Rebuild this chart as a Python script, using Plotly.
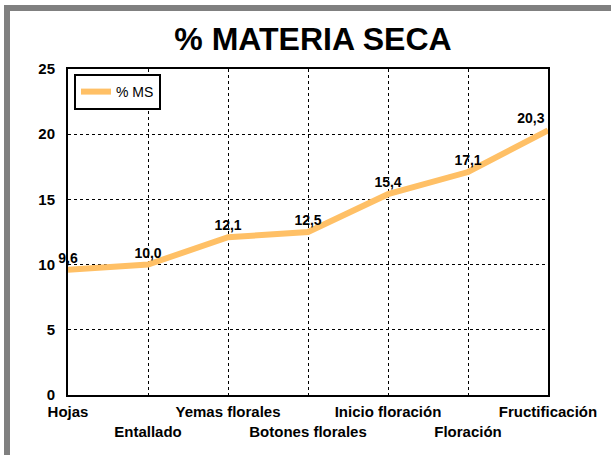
import plotly.graph_objects as go

categories = ["Hojas", "Entallado", "Yemas florales", "Botones florales",
              "Inicio floración", "Floración", "Fructificación"]
ms_values = [9.6, 10.0, 12.1, 12.5, 15.4, 17.1, 20.3]
series_name = "% MS"
title_text = "% MATERIA SECA"
y_ticks = [0, 5, 10, 15, 20, 25]

FONT = "Liberation Sans, Arial, sans-serif"

labels = [f"{v:.1f}".replace(".", ",") for v in ms_values]
tick_text = [c if i % 2 == 0 else "<br>" + c for i, c in enumerate(categories)]
text_pos = ["top center"] * (len(ms_values) - 1) + ["top left"]

fig = go.Figure()
fig.add_trace(go.Scatter(
    x=categories, y=ms_values, mode="lines+markers+text", name=series_name,
    line=dict(color="#FFC066", width=6),
    marker=dict(size=4, color="rgba(0,0,0,0)"),
    text=labels, textposition=text_pos,
    textfont=dict(family=FONT, size=14, color="black", weight="bold"),
    cliponaxis=False,
))

W, H = 611, 455
L, R, T, B = 68, 63, 69, 60
pw, ph = W - L - R, H - T - B

def px_x(x):
    return (x - L) / pw

def px_y(y):
    return (H - B - y) / ph

fig.update_layout(
    width=W, height=H,
    margin=dict(l=L, r=R, t=T, b=B),
    paper_bgcolor="white", plot_bgcolor="white",
    title=dict(text=title_text, x=313 / W, xanchor="center",
               y=1 - 39 / H, yanchor="middle",
               font=dict(family=FONT, size=32, color="black", weight="bold")),
    showlegend=True,
    legend=dict(x=px_x(74), y=px_y(74), xanchor="left", yanchor="top",
                bgcolor="white", bordercolor="black", borderwidth=2,
                font=dict(family=FONT, size=14, color="black"),
                tracegroupgap=0, itemwidth=30),
    shapes=[dict(type="path", xref="paper", yref="paper",
                 path=f"M {px_x(7)},{px_y(470)} L {px_x(7)},{px_y(8)} L {px_x(640)},{px_y(8)}",
                 line=dict(color="#808080", width=6))],
)

fig.update_xaxes(
    type="category", range=[0, len(categories) - 1],
    tickmode="array", tickvals=categories, ticktext=tick_text,
    showgrid=True, gridcolor="black", griddash="dot", gridwidth=1,
    showline=True, linecolor="black", linewidth=2, mirror=True,
    ticks="", tickangle=0, ticklabelstandoff=2,
    tickfont=dict(family=FONT, size=15, color="black", weight="bold"),
)
fig.update_yaxes(
    range=[0, 25], tickvals=y_ticks,
    showgrid=True, gridcolor="black", griddash="dot", gridwidth=1,
    showline=True, linecolor="black", linewidth=2, mirror=True,
    zeroline=False, ticks="", ticklabelstandoff=8,
    tickfont=dict(family=FONT, size=15, color="black", weight="bold"),
)

fig.write_html("out.html", config={"displayModeBar": False},
               post_script="document.body.style.margin='0';document.body.style.overflow='hidden';")
